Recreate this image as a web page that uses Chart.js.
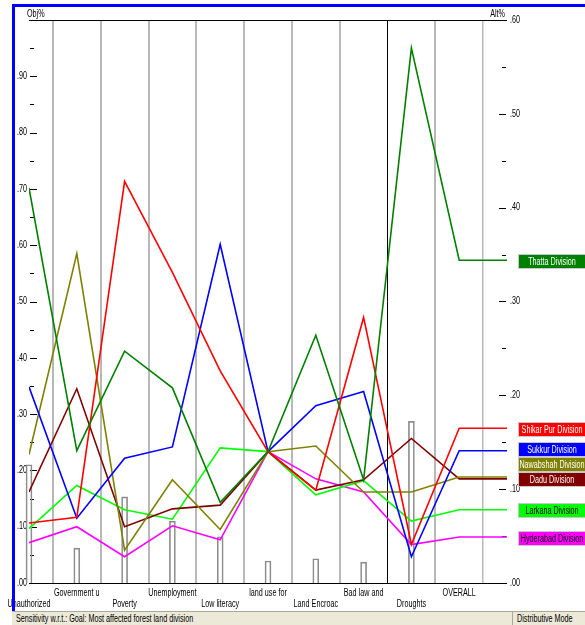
<!DOCTYPE html>
<html>
<head>
<meta charset="utf-8">
<title>Performance sensitivity</title>
<script src="https://cdn.jsdelivr.net/npm/chart.js@4.4.1/dist/chart.umd.min.js"></script>
<style>
  html, body { margin: 0; padding: 0; background: #fff; width: 585px; height: 625px; overflow: hidden; }
  #wrap { position: relative; width: 585px; height: 625px; }
  #chart { position: absolute; left: 0; top: 0; }
  .blue-top { position: absolute; left: 12px; top: 4px; width: 573px; height: 3px; background: #0000ff; }
  .blue-left { position: absolute; left: 12px; top: 4px; width: 3px; height: 608px; background: #0000ff; }
  .status {
    position: absolute; left: 12px; top: 611px; width: 573px; height: 14px;
    background: #ece9d8; border-top: 1px solid #aca899;
    font: 10px "Liberation Sans", Arial, sans-serif; color: #000;
  }
  .status span { position: absolute; top: 1px; white-space: nowrap; transform: scaleX(0.72); transform-origin: left center; }
  .status .goal { left: 4px; }
  .status .mode { left: 505px; }
  .status .sep { position: absolute; left: 500px; top: 0; width: 1px; height: 14px; background: #aca899; }
</style>
</head>
<body>
<div id="wrap">
  <canvas id="chart" width="585" height="612"></canvas>
  <div class="blue-top"></div>
  <div class="blue-left"></div>
  <div class="status">
    <span class="goal">Sensitivity w.r.t.: Goal: Most affected forest land division</span>
    <div class="sep"></div>
    <span class="mode">Distributive Mode</span>
  </div>
</div>
<script>
// criteria along the x axis (last one is the overall result)
const categories = ['Unauthorized', 'Government u', 'Poverty', 'Unemployment', 'Low literacy',
  'land use for', 'Land Encroac', 'Bad law and', 'Droughts', 'OVERALL'];

// objective priorities (Obj%, left axis)
const objectiveWeights = [0.210, 0.062, 0.153, 0.110, 0.082, 0.039, 0.043, 0.037, 0.287];

// alternative priorities per criterion (Alt%, right axis)
const thatta    = [0.421, 0.141, 0.247, 0.208, 0.086, 0.140, 0.264, 0.110, 0.570, 0.344];
const shikarpur = [0.064, 0.070, 0.428, 0.331, 0.226, 0.140, 0.099, 0.283, 0.041, 0.165];
const sukkur    = [0.209, 0.069, 0.133, 0.145, 0.361, 0.140, 0.189, 0.204, 0.028, 0.141];
const nawabshah = [0.137, 0.351, 0.035, 0.110, 0.057, 0.140, 0.146, 0.097, 0.097, 0.113];
const dadu      = [0.097, 0.207, 0.060, 0.079, 0.083, 0.140, 0.099, 0.110, 0.154, 0.111];
const larkana   = [0.058, 0.104, 0.078, 0.068, 0.144, 0.140, 0.094, 0.109, 0.066, 0.078];
const hyderabad = [0.043, 0.060, 0.028, 0.061, 0.046, 0.140, 0.111, 0.097, 0.041, 0.049];

// axis tick labels
const objTicks = ['.00', '.10', '.20', '.30', '.40', '.50', '.60', '.70', '.80', '.90'];
const altTicks = ['.00', '.10', '.20', '.30', '.40', '.50', '.60'];

const divisions = ['Thatta Division', 'Shikar Pur Division', 'Sukkur Division', 'Nawabshah Division',
  'Dadu Division', 'Larkana Division', 'Hyderabad Division'];
const series = [thatta, shikarpur, sukkur, nawabshah, dadu, larkana, hyderabad];
const lineColors = ['#008000', '#ff0000', '#0000ff', '#808000', '#800000', '#00ff00', '#ff00ff'];
const labelTextColors = ['#fff', '#fff', '#fff', '#fff', '#fff', '#000', '#000'];

const FONT = '"Liberation Sans", Arial, sans-serif';
const NARROW = 0.72;
const selectedColumn = 8;

// the reference uses a narrow face; squeeze a normal one horizontally
function narrowText(ctx, text, x, y, align, color, size) {
  ctx.save();
  ctx.font = size + 'px ' + FONT;
  ctx.fillStyle = color;
  ctx.textBaseline = 'middle';
  ctx.textAlign = align;
  ctx.translate(x, y);
  ctx.scale(NARROW, 1);
  ctx.fillText(text, 0, 0);
  ctx.restore();
}

// line points: one per criterion, plus a flat stub from OVERALL to the right axis
const lineDatasets = series.map((vals, i) => {
  const pts = vals.map((v, j) => ({ x: j, y: v }));
  pts.push({ x: vals.length, y: vals[vals.length - 1] });
  return {
    type: 'line',
    label: divisions[i],
    data: pts,
    yAxisID: 'yR',
    borderColor: lineColors[i],
    borderWidth: 1.6,
    pointRadius: 0,
    tension: 0,
    fill: false,
    order: 1
  };
});

const barDataset = {
  type: 'bar',
  label: 'Obj%',
  data: objectiveWeights.map((v, j) => ({ x: j, y: v })),
  yAxisID: 'yL',
  backgroundColor: 'rgba(255,255,255,0)',
  borderColor: '#8c8c8c',
  borderWidth: 1,
  barThickness: 6,
  clip: false,
  order: 10
};

// inner tick marks, frame lines, axis labels and captions
const framePlugin = {
  id: 'frame',
  beforeDatasetsDraw(chart) {
    const { ctx, chartArea: a } = chart;
    const yL = chart.scales.yL, yR = chart.scales.yR, x = chart.scales.x;
    ctx.save();
    ctx.strokeStyle = '#000';
    ctx.lineWidth = 1;
    ctx.beginPath();
    ctx.moveTo(a.left, a.top + 0.5); ctx.lineTo(a.right, a.top + 0.5);
    ctx.moveTo(a.left, a.bottom + 0.5); ctx.lineTo(a.right, a.bottom + 0.5);
    ctx.stroke();

    ctx.beginPath();
    for (let i = 1; i < 20; i++) {
      const y = Math.round(yL.getPixelForValue(i * 0.05)) + 0.5;
      const len = i % 2 === 0 ? 7 : 4;
      ctx.moveTo(a.left + 1, y); ctx.lineTo(a.left + 1 + len, y);
    }
    for (let i = 1; i < 12; i++) {
      const y = Math.round(yR.getPixelForValue(i * 0.05)) + 0.5;
      const len = i % 2 === 0 ? 7 : 4;
      ctx.moveTo(a.right - 1, y); ctx.lineTo(a.right - 1 - len, y);
    }
    ctx.stroke();
    ctx.restore();

    objTicks.forEach((t, i) => narrowText(ctx, t, a.left - 2, yL.getPixelForValue(i / 10), 'right', '#000', 10));
    altTicks.forEach((t, i) => narrowText(ctx, t, a.right + 3, yR.getPixelForValue(i / 10), 'left', '#000', 10));
    categories.forEach((c, i) => {
      const px = x.getPixelForValue(i);
      narrowText(ctx, c, px, a.bottom + (i % 2 === 0 ? 21 : 10), 'center', '#000', 10);
    });
    narrowText(ctx, 'Obj%', a.left - 2, a.top - 6, 'left', '#000', 10);
    narrowText(ctx, 'Alt%', a.right - 2, a.top - 6, 'right', '#000', 10);
  }
};

// coloured name boxes at the right, next to the overall values
const labelPlugin = {
  id: 'divisionLabels',
  afterDraw(chart) {
    const ctx = chart.ctx;
    const yR = chart.scales.yR;
    const items = series.map((vals, i) => ({
      name: divisions[i], color: lineColors[i], text: labelTextColors[i],
      y: yR.getPixelForValue(vals[vals.length - 1]) + 1
    }));
    items.sort((p, q) => p.y - q.y);
    for (let i = items.length - 2; i >= 0; i--) {
      if (items[i].y > items[i + 1].y - 15) items[i].y = items[i + 1].y - 15;
    }
    items.forEach(it => {
      const top = Math.round(it.y - 6.5);
      ctx.fillStyle = '#c8c8c8';
      ctx.fillRect(518, top - 1, 72, 15);
      ctx.fillStyle = it.color;
      ctx.fillRect(519, top, 70, 13);
      narrowText(ctx, it.name, 552, top + 7, 'center', it.text, 10);
    });
  }
};

new Chart(document.getElementById('chart'), {
  type: 'line',
  data: { datasets: [barDataset, ...lineDatasets] },
  options: {
    responsive: false,
    animation: false,
    devicePixelRatio: 1,
    layout: { padding: { top: 20, left: 0, right: 0, bottom: 0 } },
    plugins: { legend: { display: false }, tooltip: { enabled: false } },
    scales: {
      x: {
        type: 'linear',
        min: 0,
        max: categories.length,
        offset: false,
        afterFit: s => { s.height = 29; },
        ticks: { stepSize: 1, autoSkip: false, display: false },
        grid: {
          drawTicks: false,
          color: c => (c.index === selectedColumn ? '#000' : '#b8b8b8'),
          lineWidth: c => (c.index === selectedColumn ? 1 : (c.index === categories.length ? 1.5 : 2))
        },
        border: { display: false }
      },
      yL: {
        position: 'left',
        min: 0,
        max: 1,
        afterFit: s => { s.width = 29; },
        ticks: { stepSize: 0.1, display: false },
        grid: { display: false, drawTicks: false },
        border: { display: false }
      },
      yR: {
        position: 'right',
        min: 0,
        max: 0.6,
        afterFit: s => { s.width = 78; },
        ticks: { stepSize: 0.1, display: false },
        grid: { display: false, drawTicks: false },
        border: { display: false }
      }
    }
  },
  plugins: [framePlugin, labelPlugin]
});
</script>
</body>
</html>
